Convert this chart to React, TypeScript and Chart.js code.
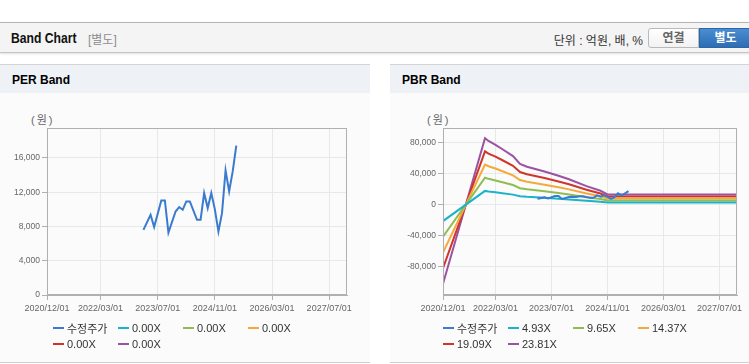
import React, { useEffect, useRef } from 'react';
import { Chart, registerables } from 'chart.js';

Chart.register(...registerables);

// ---------- data ----------
const X_START = '2020/12/01';
const X_END = '2027/12/01';
const X_TICK_LABELS = ['2020/12/01', '2022/03/01', '2023/07/01', '2024/11/01', '2026/03/01', '2027/07/01'];

const PER_Y_TICKS = [0, 4000, 8000, 12000, 16000];
const PBR_Y_TICKS = [-80000, -40000, 0, 40000, 80000];

const PRICE_DATES = [
  '2023/03/01', '2023/05/01', '2023/06/01', '2023/08/01', '2023/09/01', '2023/10/01',
  '2023/12/01', '2024/01/01', '2024/02/01', '2024/03/01', '2024/04/01', '2024/06/01',
  '2024/07/01', '2024/08/01', '2024/09/01', '2024/10/01', '2024/11/01', '2024/12/01',
  '2025/01/01', '2025/02/01', '2025/03/01', '2025/04/01', '2025/05/01',
];
const PRICE = [
  7610, 9365, 7925, 11040, 11040, 7290,
  9750, 10270, 9950, 10920, 10920, 8780,
  8780, 11900, 10150, 11900, 10000, 7410,
  9560, 14550, 12090, 14430, 17440,
];

const PER_LABELS = ['수정주가', '0.00X', '0.00X', '0.00X', '0.00X', '0.00X'];
const PBR_LABELS = ['수정주가', '4.93X', '9.65X', '14.37X', '19.09X', '23.81X'];
const SERIES_COLORS = ['#3a7bd0', '#1bb3c8', '#8fbd52', '#f5a93a', '#d0352c', '#9b52a3'];

const PER_BAND_DATES: string[] = [];
const PER_BAND_1: number[] = [];
const PER_BAND_2: number[] = [];
const PER_BAND_3: number[] = [];
const PER_BAND_4: number[] = [];
const PER_BAND_5: number[] = [];

const PBR_BAND_DATES = [
  '2020/12/01', '2021/12/01', '2022/01/01', '2022/03/01', '2022/05/01', '2022/08/01',
  '2022/10/01', '2022/12/01', '2023/05/01', '2023/09/01', '2023/12/01', '2024/05/01',
  '2024/09/01', '2024/11/01', '2027/12/01',
];
const PBR_BAND_1 = [-21051, 17699, 16959, 15924, 14741, 12917, 10846, 10107, 8825, 7691, 6754, 4930, 3698, 2736, 2736];
const PBR_BAND_2 = [-41206, 34644, 33196, 31170, 28854, 25283, 21230, 19783, 17274, 15054, 13221, 9650, 7238, 5356, 5356];
const PBR_BAND_3 = [-61360, 51588, 49433, 46415, 42966, 37649, 31614, 29459, 25722, 22417, 19687, 14370, 10778, 7975, 7975];
const PBR_BAND_4 = [-81514, 68533, 65670, 61661, 57079, 50016, 41998, 39135, 34171, 29780, 26153, 19090, 14318, 10595, 10595];
const PBR_BAND_5 = [-101669, 85478, 81906, 76906, 71192, 62382, 52382, 48811, 42620, 37144, 32620, 23810, 17858, 13215, 13215];

// ---------- helpers ----------
function toMonth(s: string): number {
  const [y, m, d] = s.split('/').map(Number);
  return (y - 2020) * 12 + (m - 12) + (d - 1) / 30;
}

type Series = { label: string; color: string; dates: string[]; values: number[] };

const FONT = '"Liberation Sans", Arial, "Noto Sans CJK KR", sans-serif';

const framePlugin = {
  id: 'frame',
  afterDraw(chart: any) {
    const { ctx, chartArea } = chart;
    ctx.save();
    ctx.strokeStyle = '#b0b0b0';
    ctx.lineWidth = 1;
    ctx.strokeRect(
      Math.round(chartArea.left) + 0.5,
      Math.round(chartArea.top) + 0.5,
      Math.round(chartArea.right - chartArea.left) - 1,
      Math.round(chartArea.bottom - chartArea.top) - 1
    );
    ctx.restore();
  },
};

function BandChart(props: {
  series: Series[];
  yMin: number;
  yMax: number;
  yTicks: number[];
  yAxisWidth: number;
  left: number;
}) {
  const ref = useRef<HTMLCanvasElement>(null);
  useEffect(() => {
    if (!ref.current) return;
    const { series, yMin, yMax, yTicks, yAxisWidth } = props;
    const chart = new Chart(ref.current, {
      type: 'line',
      data: {
        datasets: series.map((s) => ({
          label: s.label,
          data: s.dates.map((d, i) => ({ x: toMonth(d), y: s.values[i] })),
          borderColor: s.color,
          backgroundColor: s.color,
          borderWidth: 2,
          pointRadius: 0,
          fill: false,
          tension: 0,
        })),
      },
      options: {
        responsive: false,
        animation: false,
        layout: { padding: { top: 35, right: 23, left: 0, bottom: 0 } },
        plugins: { legend: { display: false }, tooltip: { enabled: false } },
        scales: {
          x: {
            type: 'linear',
            min: toMonth(X_START),
            max: toMonth(X_END),
            afterBuildTicks: (s: any) => {
              s.ticks = X_TICK_LABELS.map((l) => ({ value: toMonth(l) }));
            },
            afterFit: (s: any) => {
              s.height = 28;
            },
            ticks: {
              autoSkip: false,
              maxRotation: 0,
              minRotation: 0,
              padding: 3,
              color: '#666',
              font: { family: FONT, size: 9 },
              callback: (_v: any, i: number) => X_TICK_LABELS[i],
            },
            grid: { color: '#e8e8e8', tickColor: '#b0b0b0', tickLength: 5 },
            border: { color: '#b0b0b0' },
          },
          y: {
            min: yMin,
            max: yMax,
            afterBuildTicks: (s: any) => {
              s.ticks = yTicks.map((v) => ({ value: v }));
            },
            afterFit: (s: any) => {
              s.width = yAxisWidth;
            },
            ticks: {
              padding: 2,
              color: '#666',
              font: { family: FONT, size: 8.5 },
              callback: (v: any) => Number(v).toLocaleString('en-US'),
            },
            grid: { color: '#e8e8e8', tickColor: '#b0b0b0', tickLength: 5 },
            border: { color: '#b0b0b0' },
          },
        },
      } as any,
      plugins: [framePlugin],
    });
    return () => chart.destroy();
  }, []);
  return (
    <canvas
      ref={ref}
      width={370}
      height={230}
      style={{ position: 'absolute', left: props.left, top: 93, width: 370, height: 230 }}
    />
  );
}

function Legend({ labels, left }: { labels: string[]; left: number }) {
  return (
    <div
      style={{
        position: 'absolute',
        left: left + 53,
        top: 320,
        width: 260,
        display: 'flex',
        flexWrap: 'wrap',
        fontSize: 11,
        color: '#333',
      }}
    >
      {labels.map((l, i) => (
        <div key={i} style={{ width: 65, height: 16, display: 'flex', alignItems: 'center', whiteSpace: 'nowrap' }}>
          <span style={{ display: 'inline-block', width: 11, height: 2.5, background: SERIES_COLORS[i], marginRight: 3 }} />
          <span>{l}</span>
        </div>
      ))}
    </div>
  );
}

function Panel({ left, title }: { left: number; title: string }) {
  return (
    <div
      style={{
        position: 'absolute',
        left,
        top: 64,
        width: 370,
        height: 299,
        boxSizing: 'border-box',
        borderTop: '1px solid #d4d4d4',
        borderBottom: '1px solid #cfcfcf',
        background: '#fbfbfb',
      }}
    >
      <div
        style={{
          height: 28,
          background: '#eef2f7',
          fontWeight: 'bold',
          fontSize: 12,
          color: '#000',
          paddingLeft: 12,
          lineHeight: '30px',
        }}
      >
        {title}
      </div>
    </div>
  );
}

export default function App() {
  const perSeries: Series[] = [
    { label: PER_LABELS[0], color: SERIES_COLORS[0], dates: PRICE_DATES, values: PRICE },
    { label: PER_LABELS[1], color: SERIES_COLORS[1], dates: PER_BAND_DATES, values: PER_BAND_1 },
    { label: PER_LABELS[2], color: SERIES_COLORS[2], dates: PER_BAND_DATES, values: PER_BAND_2 },
    { label: PER_LABELS[3], color: SERIES_COLORS[3], dates: PER_BAND_DATES, values: PER_BAND_3 },
    { label: PER_LABELS[4], color: SERIES_COLORS[4], dates: PER_BAND_DATES, values: PER_BAND_4 },
    { label: PER_LABELS[5], color: SERIES_COLORS[5], dates: PER_BAND_DATES, values: PER_BAND_5 },
  ];
  const pbrSeries: Series[] = [
    { label: PBR_LABELS[0], color: SERIES_COLORS[0], dates: PRICE_DATES, values: PRICE },
    { label: PBR_LABELS[1], color: SERIES_COLORS[1], dates: PBR_BAND_DATES, values: PBR_BAND_1 },
    { label: PBR_LABELS[2], color: SERIES_COLORS[2], dates: PBR_BAND_DATES, values: PBR_BAND_2 },
    { label: PBR_LABELS[3], color: SERIES_COLORS[3], dates: PBR_BAND_DATES, values: PBR_BAND_3 },
    { label: PBR_LABELS[4], color: SERIES_COLORS[4], dates: PBR_BAND_DATES, values: PBR_BAND_4 },
    { label: PBR_LABELS[5], color: SERIES_COLORS[5], dates: PBR_BAND_DATES, values: PBR_BAND_5 },
  ];

  return (
    <div
      style={{
        position: 'fixed',
        left: 0,
        top: 0,
        width: 749,
        height: 364,
        overflow: 'hidden',
        background: '#fff',
        fontFamily: FONT,
      }}
    >
      {/* header bar */}
      <div
        style={{
          position: 'absolute',
          left: 0,
          top: 22,
          width: 760,
          height: 31,
          boxSizing: 'border-box',
          borderTop: '1px solid #b4b4b4',
          borderBottom: '1px solid #c4c4c4',
          background: '#f4f4f4',
          boxShadow: '0 1px 2px rgba(0,0,0,0.12)',
        }}
      >
        <span
          style={{
            position: 'absolute',
            left: 11,
            top: 6,
            fontWeight: 'bold',
            fontSize: 15,
            color: '#111',
            display: 'inline-block',
            transform: 'scaleX(0.81)',
            transformOrigin: 'left center',
            whiteSpace: 'nowrap',
          }}
        >
          Band Chart
        </span>
        <span style={{ position: 'absolute', left: 88, top: 7, fontSize: 12, color: '#8c8c8c' }}>[별도]</span>
        <span
          style={{
            position: 'absolute',
            right: 760 - 643,
            top: 8,
            fontSize: 12,
            color: '#333',
            whiteSpace: 'nowrap',
          }}
        >
          단위 : 억원, 배, %
        </span>
        <div
          style={{
            position: 'absolute',
            left: 648,
            top: 5,
            width: 51,
            height: 20,
            boxSizing: 'border-box',
            border: '1px solid #b9b9b9',
            borderRadius: '3px 0 0 3px',
            background: 'linear-gradient(#ffffff, #f2f2f2)',
            color: '#666',
            fontWeight: 'bold',
            fontSize: 12,
            textAlign: 'center',
            lineHeight: '18px',
          }}
        >
          연결
        </div>
        <div
          style={{
            position: 'absolute',
            left: 699,
            top: 5,
            width: 53,
            height: 20,
            boxSizing: 'border-box',
            border: '1px solid #2b67a8',
            background: 'linear-gradient(#4b8dd2, #2c6db3)',
            color: '#fff',
            fontWeight: 'bold',
            fontSize: 12,
            textAlign: 'center',
            lineHeight: '18px',
          }}
        >
          별도
        </div>
      </div>

      <Panel left={0} title="PER Band" />
      <Panel left={390} title="PBR Band" />

      <div style={{ position: 'absolute', left: 31, top: 111, fontSize: 11, color: '#666', letterSpacing: 2 }}>(원)</div>
      <div style={{ position: 'absolute', left: 427, top: 111, fontSize: 11, color: '#666', letterSpacing: 2 }}>(원)</div>

      <BandChart series={perSeries} yMin={0} yMax={19500} yTicks={PER_Y_TICKS} yAxisWidth={47} left={0} />
      <BandChart series={pbrSeries} yMin={-116000} yMax={98500} yTicks={PBR_Y_TICKS} yAxisWidth={53} left={390} />

      <Legend labels={PER_LABELS} left={0} />
      <Legend labels={PBR_LABELS} left={390} />
    </div>
  );
}
